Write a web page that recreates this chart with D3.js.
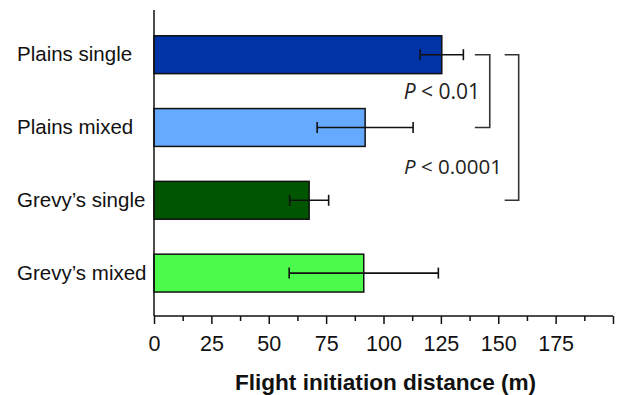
<!DOCTYPE html>
<html>
<head>
<meta charset="utf-8">
<script src="https://cdn.jsdelivr.net/npm/d3@7"></script>
<style>
  html, body { margin: 0; padding: 0; background: #fff; }
  svg { display: block; }
</style>
</head>
<body>
<svg id="chart" width="617" height="395"></svg>
<script>
const categories = ["Plains single", "Plains mixed", "Grevy’s single", "Grevy’s mixed"];
const means = [125.4, 92, 67.6, 91.4];
const errors = [9.4, 20.9, 8.5, 32.5];
const colors = ["#0033a6", "#66aaff", "#005500", "#4cfa4c"];
const majorTicks = [0, 25, 50, 75, 100, 125, 150, 175, 200];
const tickLabels = ["0", "25", "50", "75", "100", "125", "150", "175", ""];
const minorTicks = [12.5, 37.5, 62.5, 87.5, 112.5, 137.5, 162.5, 187.5];
const xTitle = "Flight initiation distance (m)";
const bracketFrom = ["Plains single", "Plains single"];
const bracketTo = ["Plains mixed", "Grevy’s single"];
const bracketX0 = [139.8, 152.8];
const bracketX1 = [146.3, 158.9];
const bracketLabels = ["0.01", "0.0001"];

const svg = d3.select("#chart");
const x = d3.scaleLinear().domain([0, 200]).range([154, 613]);
const y = d3.scaleBand().domain(categories).range([18.3, 309.5]).paddingInner(0.48).paddingOuter(0.24);

// bars
svg.append("g").selectAll("rect").data(categories).join("rect")
  .attr("x", x(0))
  .attr("y", d => y(d))
  .attr("width", (d, i) => x(means[i]) - x(0))
  .attr("height", y.bandwidth())
  .attr("fill", (d, i) => colors[i])
  .attr("stroke", "#111")
  .attr("stroke-width", 1.5);

// error bars
const eb = svg.append("g").attr("stroke", "#111").attr("stroke-width", 1.6);
categories.forEach((c, i) => {
  const cy = y(c) + y.bandwidth() / 2;
  eb.append("line").attr("x1", x(means[i] - errors[i])).attr("x2", x(means[i] + errors[i])).attr("y1", cy).attr("y2", cy);
  [means[i] - errors[i], means[i] + errors[i]].forEach(v => {
    eb.append("line").attr("x1", x(v)).attr("x2", x(v)).attr("y1", cy - 5.5).attr("y2", cy + 5.5);
  });
});

// y axis
svg.append("line").attr("x1", x(0)).attr("x2", x(0)).attr("y1", 10).attr("y2", 316)
  .attr("stroke", "#111").attr("stroke-width", 1.5);

// x axis
const xAxis = d3.axisBottom(x).tickValues(majorTicks).tickSize(8).tickSizeOuter(0)
  .tickFormat((d, i) => tickLabels[i]);
const gx = svg.append("g").attr("transform", "translate(0,316)").call(xAxis);
gx.select(".domain").attr("stroke", "#111").attr("stroke-width", 1.5).attr("d", `M${x(0)},0H${x(200)}`);
gx.selectAll(".tick line").attr("stroke", "#111").attr("stroke-width", 1.5);
gx.selectAll(".tick text").attr("font-family", "Liberation Sans, Arial, sans-serif")
  .attr("font-size", 21.5).attr("fill", "#111").attr("dy", "0.72em").attr("y", 19.5);
const gm = svg.append("g").attr("transform", "translate(0,316)")
  .call(d3.axisBottom(x).tickValues(minorTicks).tickSize(5).tickFormat(""));
gm.select(".domain").remove();
gm.selectAll(".tick line").attr("stroke", "#111").attr("stroke-width", 1.5);

// x title
svg.append("text").attr("x", 385.5).attr("y", 390).attr("text-anchor", "middle")
  .attr("font-family", "Liberation Sans, Arial, sans-serif").attr("font-weight", "bold")
  .attr("font-size", 22.6).attr("fill", "#111").text(xTitle);

// category labels
svg.append("g").selectAll("text").data(categories).join("text")
  .attr("x", 17)
  .attr("y", d => y(d) + y.bandwidth() / 2 + 6.5)
  .attr("font-family", "Liberation Sans, Arial, sans-serif")
  .attr("font-size", 20.5).attr("fill", "#111").text(d => d);

// significance brackets
const bg = svg.append("g").attr("fill", "none").attr("stroke", "#333").attr("stroke-width", 1.6);
bracketFrom.forEach((f, i) => {
  const y0 = y(f) + y.bandwidth() / 2;
  const y1 = y(bracketTo[i]) + y.bandwidth() / 2;
  bg.append("path").attr("d", `M${x(bracketX0[i])},${y0}H${x(bracketX1[i])}V${y1}H${x(bracketX0[i])}`);
});
const labelPos = [[480, 99], [502, 174]];
const labelSize = [21, 20.5];
bracketLabels.forEach((l, i) => {
  const t = svg.append("text").attr("x", labelPos[i][0]).attr("y", labelPos[i][1])
    .attr("text-anchor", "end").attr("font-family", "Open Sans, sans-serif")
    .attr("font-size", labelSize[i]).attr("fill", "#222");
  t.append("tspan").attr("font-style", "italic").text("P");
  t.append("tspan").text(" < " + l);
});
</script>
</body>
</html>
